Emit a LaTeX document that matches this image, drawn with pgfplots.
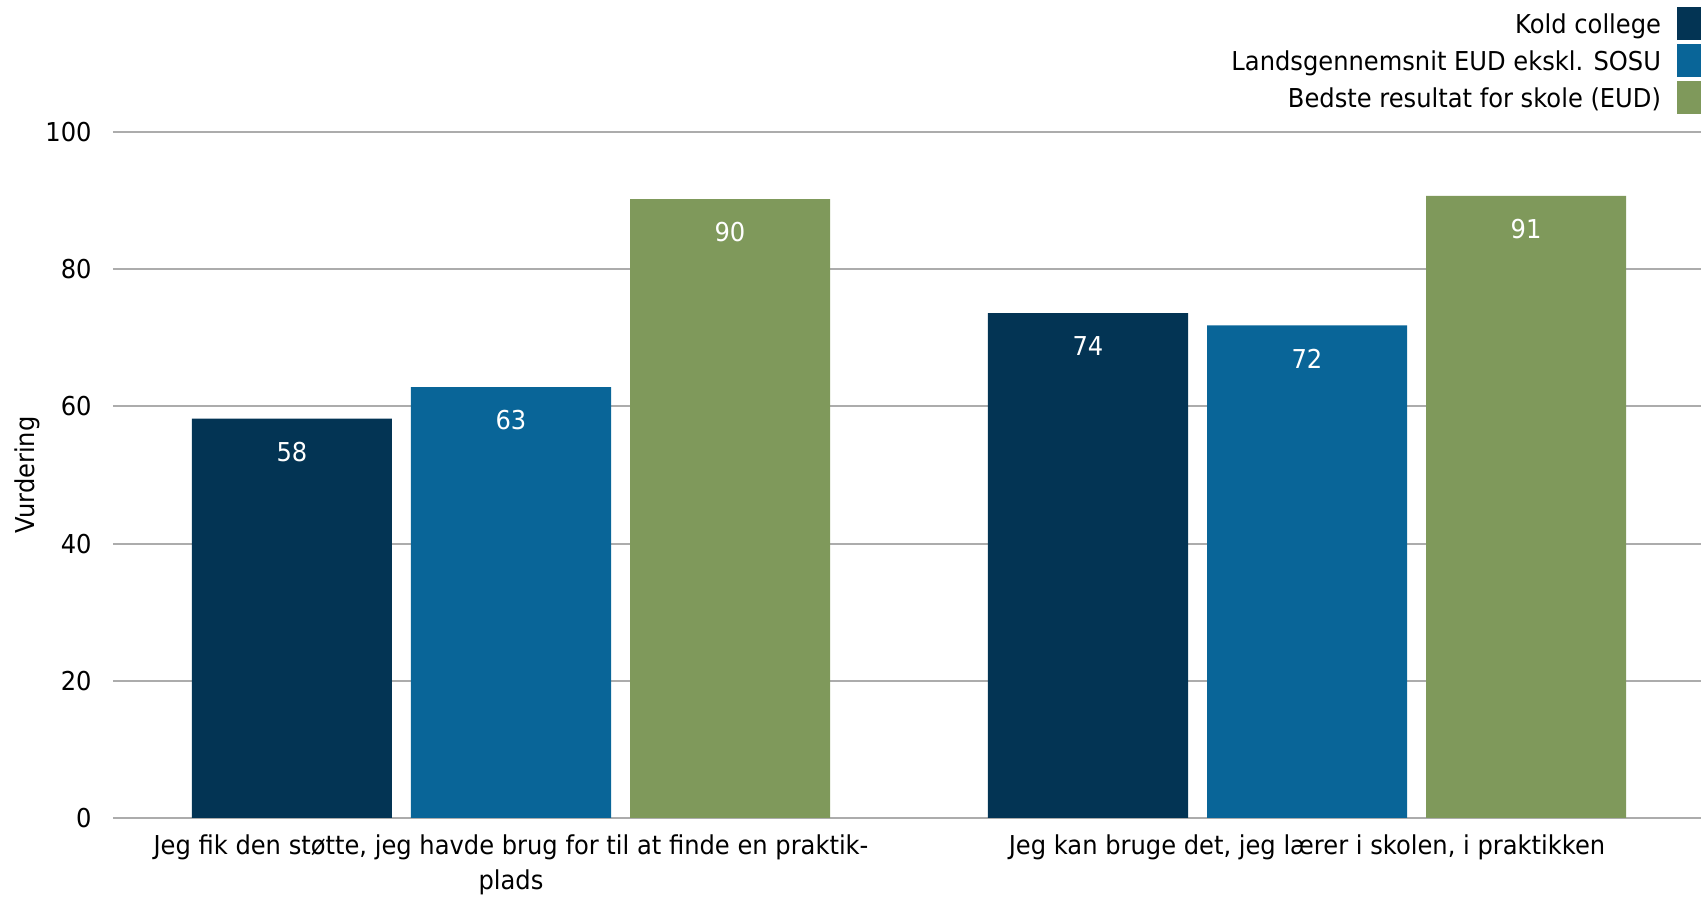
\documentclass[border=0pt]{standalone}
\usepackage{fontspec}
\setmainfont{DejaVu Sans}[FakeStretch=0.93]
\usepackage{pgfplots}
\pgfplotsset{compat=1.18}
\definecolor{kdark}{RGB}{3,52,84}
\definecolor{kblue}{RGB}{9,101,152}
\definecolor{kgreen}{RGB}{127,153,91}
\definecolor{gridc}{RGB}{172,172,172}
\pgfplotsset{
  /pgfplots/ybar legend/.style={/pgfplots/legend image code/.code={\fill[##1] (0pt,-7.5pt) rectangle (12pt,9pt);}},
}
\begin{document}
\begin{tikzpicture}[font=\fontsize{13}{17.5}\selectfont]
\begin{axis}[name=ax, scale only axis, width=794pt, height=343pt,
  xmin=-0.5, xmax=1.495, ymin=0, ymax=100,
  ybar=9.5pt, bar width=100pt,
  axis line style={draw=none},
  major tick length=0pt,
  ytick={0,20,...,100}, xtick={0,1},
  xticklabels={{Jeg fik den støtte, jeg havde brug for til at finde en praktik-\\plads},{Jeg kan bruge det, jeg lærer i skolen, i praktikken}},
  xticklabel style={inner sep=0pt, anchor=north, yshift=-8pt, align=center},
  yticklabel style={inner sep=0pt, anchor=east, xshift=-10.5pt},
  /pgf/number format/assume math mode=true,
  ymajorgrids, grid style={gridc, line width=1pt},
  ylabel={Vurdering},
  every axis y label/.style={at={(rel axis cs:0,0.5)}, xshift=-43pt, rotate=90, anchor=center},
  nodes near coords,
  nodes near coords style={white, anchor=center, yshift=-16.5pt, /pgf/number format/.cd, fixed, precision=0},
  legend plot pos=right,
  legend cell align=right,
  legend style={at={(1,1)}, anchor=south east, yshift=8.9pt, draw=none, fill=none, inner sep=0pt, outer sep=0pt, row sep=2.1pt, column sep=8pt, nodes={inner sep=0pt}},
]
\addplot[fill=kdark, draw=none] coordinates {(0,58.2) (1,73.6)};
\addplot[fill=kblue, draw=none] coordinates {(0,62.8) (1,71.8)};
\addplot[fill=kgreen, draw=none] coordinates {(0,90.2) (1,90.7)};
\legend{Kold college, Landsgennemsnit EUD ekskl. SOSU, Bedste resultat for skole (EUD)}
\end{axis}
\pgfresetboundingbox
\path ([shift={(-56.5pt,-39.5pt)}]ax.south west) rectangle ([shift={(0pt,66pt)}]ax.north east);
\end{tikzpicture}
\end{document}
